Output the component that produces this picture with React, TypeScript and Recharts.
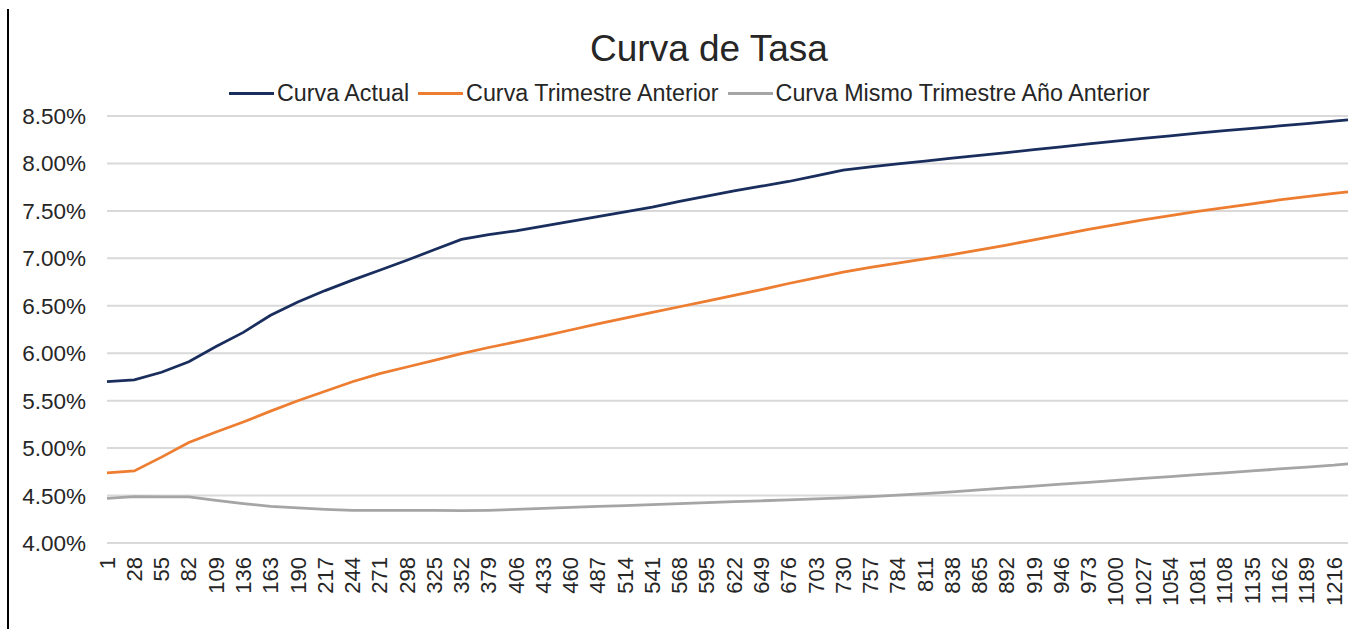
import { LineChart, Line, XAxis, YAxis, CartesianGrid } from 'recharts'

// plazo en días (la última posición es el final de la curva, sin etiqueta)
const DAYS = [
  1, 28, 55, 82, 109, 136, 163, 190, 217, 244, 271, 298, 325, 352, 379, 406,
  433, 460, 487, 514, 541, 568, 595, 622, 649, 676, 703, 730, 757, 784, 811,
  838, 865, 892, 919, 946, 973, 1000, 1027, 1054, 1081, 1108, 1135, 1162,
  1189, 1216, 1230,
]

const X_TICKS = [
  1, 28, 55, 82, 109, 136, 163, 190, 217, 244, 271, 298, 325, 352, 379, 406,
  433, 460, 487, 514, 541, 568, 595, 622, 649, 676, 703, 730, 757, 784, 811,
  838, 865, 892, 919, 946, 973, 1000, 1027, 1054, 1081, 1108, 1135, 1162,
  1189, 1216,
]

const Y_TICKS = [4, 4.5, 5, 5.5, 6, 6.5, 7, 7.5, 8, 8.5]

const CURVA_ACTUAL = [
  5.7, 5.72, 5.8, 5.91, 6.07, 6.22, 6.4, 6.54, 6.66, 6.77, 6.875, 6.98, 7.09,
  7.2, 7.25, 7.29, 7.34, 7.39, 7.44, 7.49, 7.54, 7.6, 7.655, 7.71, 7.76, 7.81,
  7.87, 7.93, 7.965, 7.995, 8.025, 8.055, 8.085, 8.115, 8.145, 8.175, 8.205,
  8.235, 8.265, 8.29, 8.32, 8.345, 8.37, 8.395, 8.42, 8.445, 8.46,
]

const CURVA_TRIMESTRE_ANTERIOR = [
  4.74, 4.76, 4.905, 5.06, 5.17, 5.275, 5.39, 5.5, 5.6, 5.7, 5.785, 5.855,
  5.925, 5.995, 6.06, 6.12, 6.18, 6.245, 6.31, 6.37, 6.43, 6.49, 6.55, 6.61,
  6.67, 6.735, 6.795, 6.855, 6.905, 6.95, 6.995, 7.04, 7.09, 7.14, 7.195, 7.25,
  7.305, 7.355, 7.405, 7.45, 7.495, 7.535, 7.575, 7.615, 7.65, 7.685, 7.7,
]

const CURVA_ANIO_ANTERIOR = [
  4.47, 4.49, 4.485, 4.485, 4.45, 4.415, 4.385, 4.37, 4.355, 4.345, 4.345,
  4.345, 4.345, 4.34, 4.345, 4.355, 4.365, 4.375, 4.385, 4.395, 4.405, 4.415,
  4.425, 4.435, 4.445, 4.455, 4.465, 4.475, 4.49, 4.505, 4.52, 4.54, 4.56,
  4.58, 4.6, 4.62, 4.64, 4.66, 4.68, 4.7, 4.72, 4.74, 4.76, 4.78, 4.8, 4.82,
  4.835,
]

const SERIES = [
  { key: 'actual', name: 'Curva Actual', color: '#1a2e5e' },
  { key: 'trimAnt', name: 'Curva Trimestre Anterior', color: '#ed7d31' },
  { key: 'anioAnt', name: 'Curva Mismo Trimestre Año Anterior', color: '#a5a5a5' },
]

const data = DAYS.map((day, i) => ({
  day,
  actual: CURVA_ACTUAL[i],
  trimAnt: CURVA_TRIMESTRE_ANTERIOR[i],
  anioAnt: CURVA_ANIO_ANTERIOR[i],
}))

const FONT = '"Liberation Sans", Arial, sans-serif'
const TEXT = '#262626'

function XTick({ x, y, payload }: any) {
  const ty = y + 6
  return (
    <text
      x={x}
      y={ty}
      transform={`rotate(-90, ${x}, ${ty})`}
      textAnchor="end"
      dy="0.35em"
      fill={TEXT}
      fontSize={22}
      fontFamily={FONT}
    >
      {payload.value}
    </text>
  )
}

export default function App() {
  return (
    <div
      style={{
        position: 'absolute',
        left: 0,
        top: 0,
        width: 1354,
        height: 629,
        background: '#fff',
        fontFamily: FONT,
        color: TEXT,
      }}
    >
      <div style={{ position: 'absolute', left: 7, top: 9, width: 2, height: 620, background: '#000' }} />
      <div
        style={{
          position: 'absolute',
          left: 0,
          width: 1418,
          top: 30,
          textAlign: 'center',
          fontSize: 37,
          lineHeight: '37px',
        }}
      >
        Curva de Tasa
      </div>
      <div
        style={{
          position: 'absolute',
          left: 229,
          top: 82,
          display: 'flex',
          alignItems: 'center',
          fontSize: 23.3,
          lineHeight: '23px',
          whiteSpace: 'nowrap',
        }}
      >
        {SERIES.map((s) => (
          <div key={s.key} style={{ display: 'flex', alignItems: 'center', marginRight: 9 }}>
            <div style={{ width: 45, height: 2.75, background: s.color, marginRight: 3 }} />
            <span>{s.name}</span>
          </div>
        ))}
      </div>
      <div style={{ position: 'absolute', left: 0, top: 0 }}>
        <LineChart width={1354} height={629} data={data} margin={{ top: 116, right: 6, left: 8, bottom: 0 }}>
          <CartesianGrid vertical={false} stroke="#d9d9d9" strokeWidth={2} />
          <XAxis
            dataKey="day"
            type="number"
            domain={[1, 1230]}
            ticks={X_TICKS}
            interval={0}
            height={86}
            axisLine={false}
            tickLine={false}
            tick={<XTick />}
          />
          <YAxis
            type="number"
            domain={[4, 8.5]}
            ticks={Y_TICKS}
            width={99}
            axisLine={false}
            tickLine={false}
            tickMargin={15}
            tickFormatter={(v: number) => `${v.toFixed(2)}%`}
            tick={{ fill: TEXT, fontSize: 22.5, fontFamily: FONT }}
          />
          {SERIES.map((s) => (
            <Line
              key={s.key}
              dataKey={s.key}
              name={s.name}
              type="linear"
              stroke={s.color}
              strokeWidth={2.75}
              dot={false}
              isAnimationActive={false}
            />
          ))}
        </LineChart>
      </div>
    </div>
  )
}
